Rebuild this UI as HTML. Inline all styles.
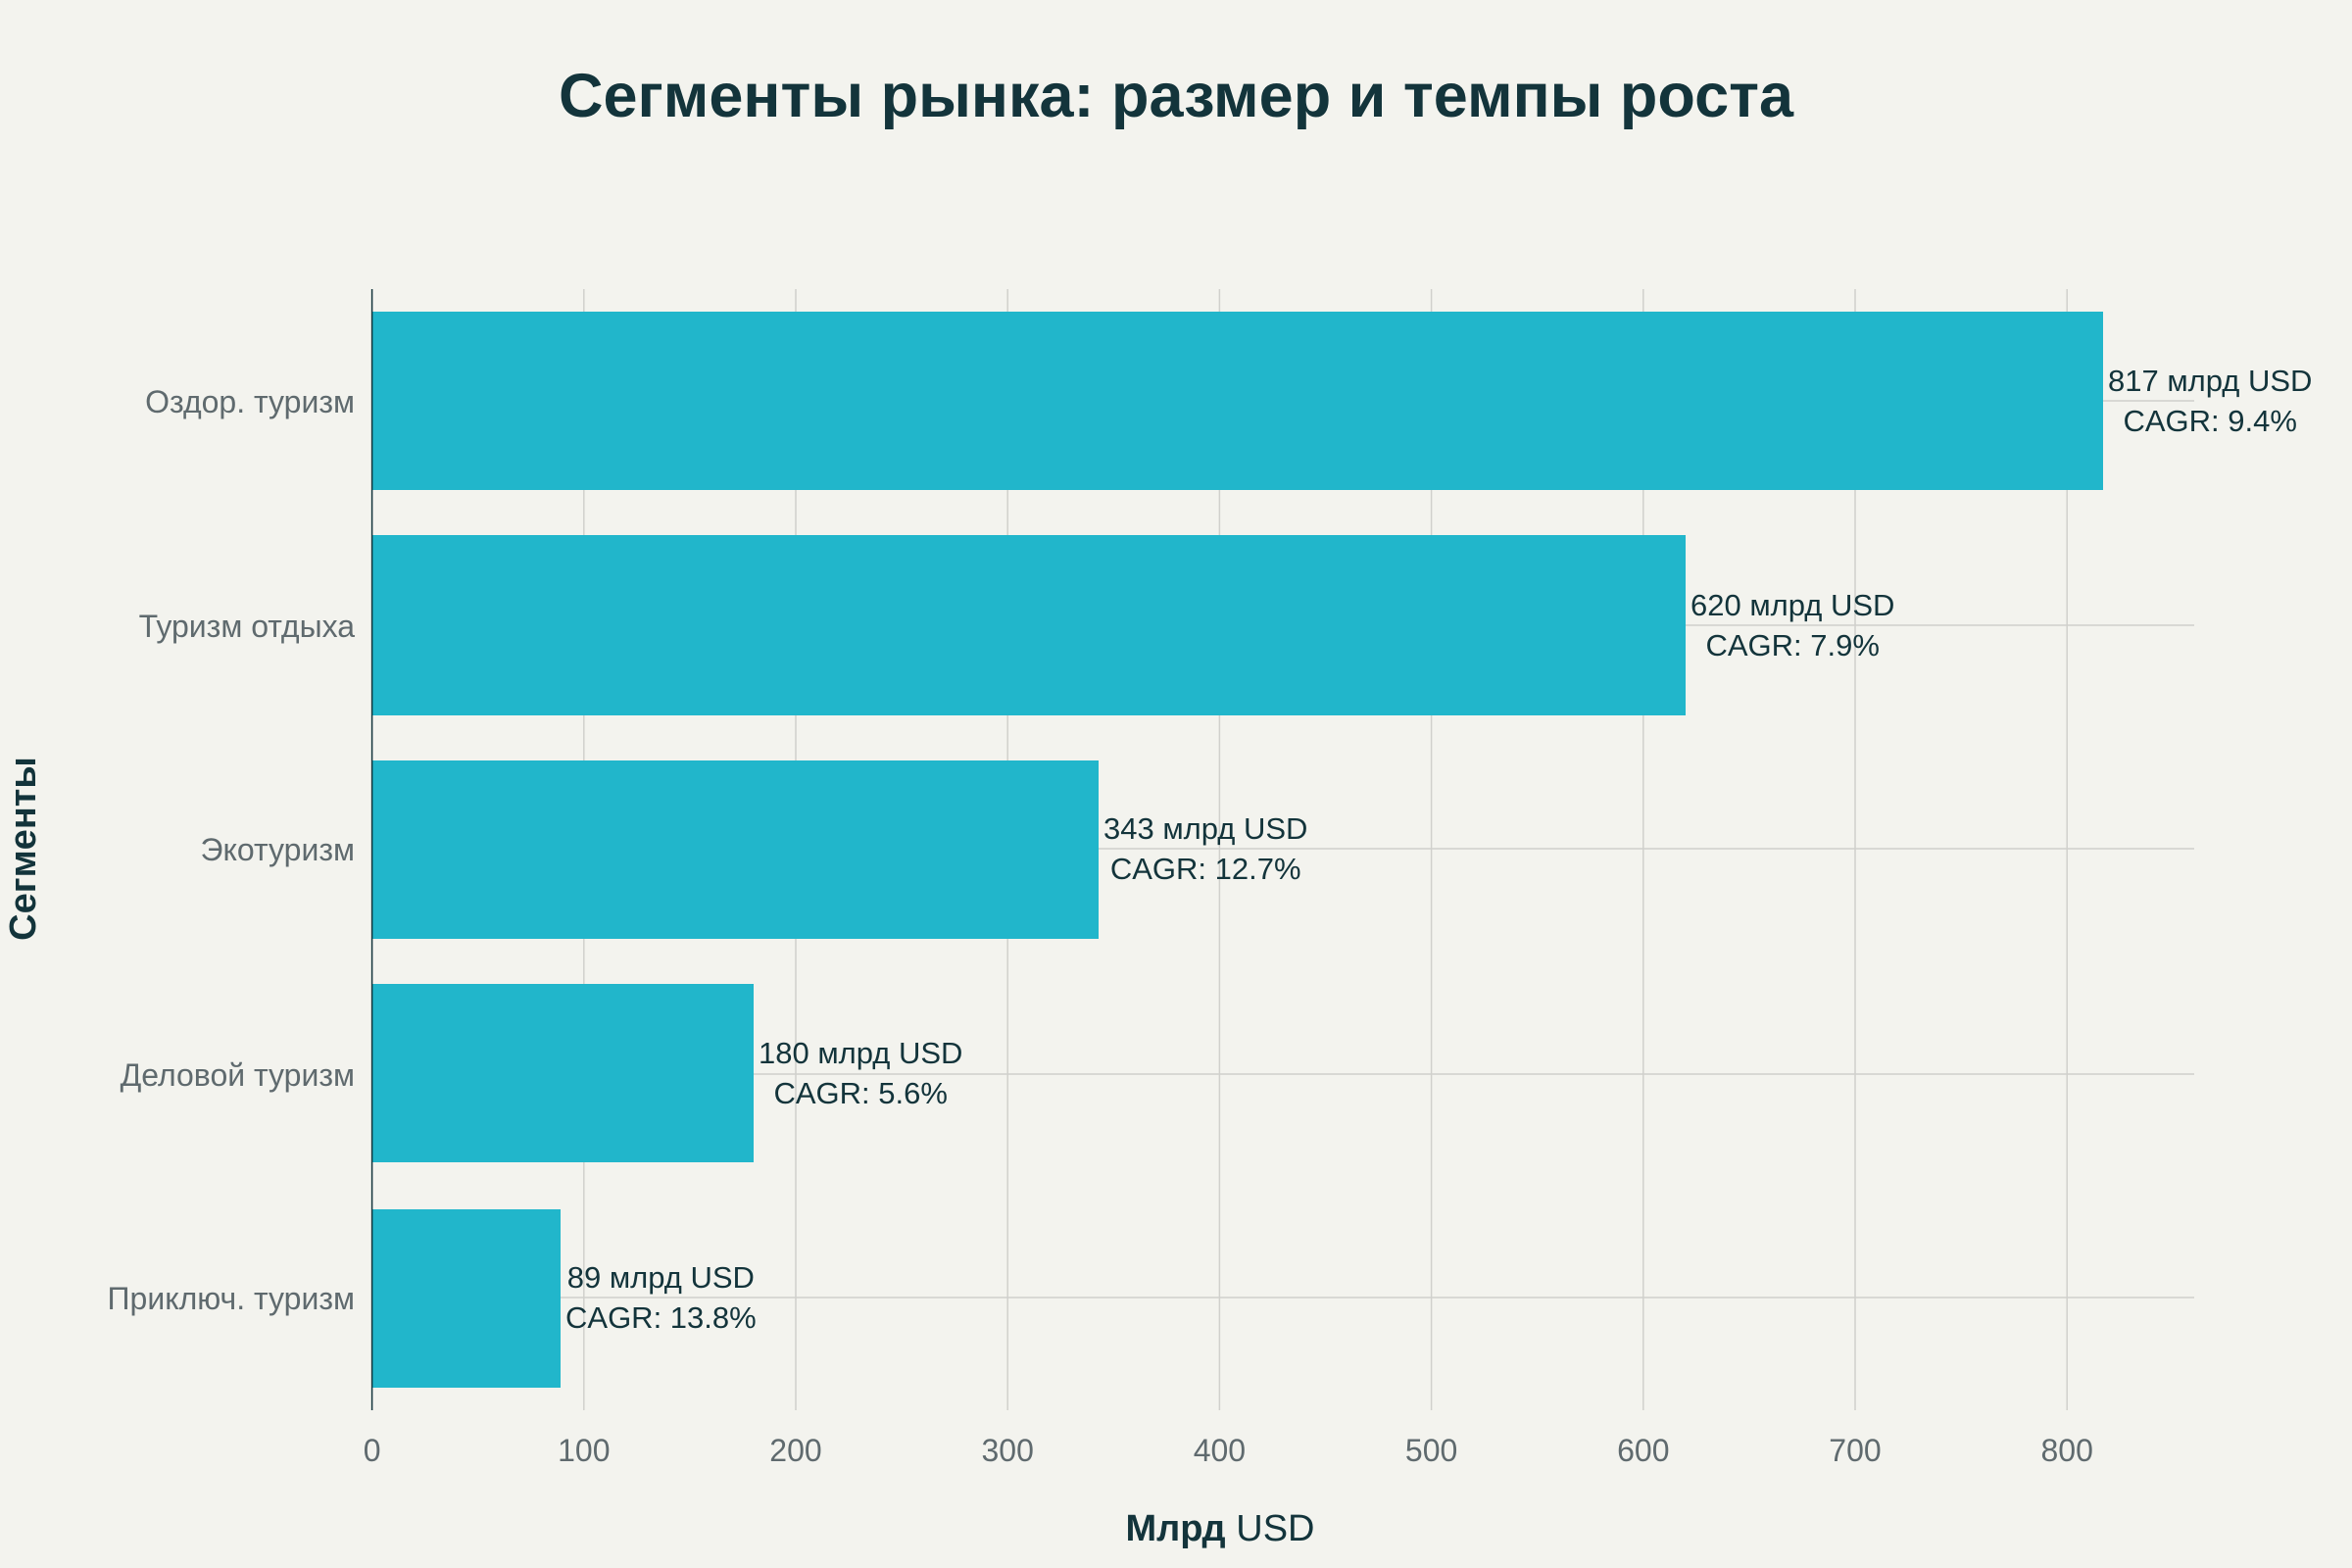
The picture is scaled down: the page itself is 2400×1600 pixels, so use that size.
<!DOCTYPE html>
<html><head><meta charset="utf-8"><style>
body{margin:0;background:#f3f3ee;}
.w{position:relative;width:2400px;height:1600px;background:#f3f3ee;font-family:"Liberation Sans","DejaVu Sans",sans-serif;overflow:hidden}
.a{position:absolute;text-align:center;font-size:31px;line-height:41px;color:#13343b;white-space:nowrap}
</style></head><body><div class="w">
<svg width="2400" height="1600" style="position:absolute;left:0;top:0" font-family="Liberation Sans, DejaVu Sans, sans-serif">
<text x="1200" y="119" text-anchor="middle" font-size="63" font-weight="bold" fill="#13343b">Сегменты рынка: размер и темпы роста</text>
<g stroke="#d0d0cc" stroke-width="1.5">
<line x1="595.8" y1="295" x2="595.8" y2="1439"/><line x1="812" y1="295" x2="812" y2="1439"/><line x1="1028.2" y1="295" x2="1028.2" y2="1439"/><line x1="1244.4" y1="295" x2="1244.4" y2="1439"/><line x1="1460.6" y1="295" x2="1460.6" y2="1439"/><line x1="1676.8" y1="295" x2="1676.8" y2="1439"/><line x1="1893" y1="295" x2="1893" y2="1439"/><line x1="2109.2" y1="295" x2="2109.2" y2="1439"/>
<line x1="380" y1="409" x2="2239" y2="409"/><line x1="380" y1="638" x2="2239" y2="638"/><line x1="380" y1="866" x2="2239" y2="866"/><line x1="380" y1="1096" x2="2239" y2="1096"/><line x1="380" y1="1324" x2="2239" y2="1324"/>
</g>
<g fill="#21b6cb">
<rect x="380" y="318" width="1766" height="182"/>
<rect x="380" y="546" width="1340" height="184"/>
<rect x="380" y="776" width="741" height="182"/>
<rect x="380" y="1004" width="389" height="182"/>
<rect x="380" y="1234" width="192" height="182"/>
</g>
<line x1="379.6" y1="295" x2="379.6" y2="1439" stroke="#13343b" stroke-width="1.5"/>
<g font-size="32" fill="#5f6a6e" text-anchor="end">
<text x="362" y="421">Оздор. туризм</text>
<text x="362" y="650">Туризм отдыха</text>
<text x="362" y="878">Экотуризм</text>
<text x="362" y="1108">Деловой туризм</text>
<text x="362" y="1336">Приключ. туризм</text>
</g>
<g font-size="32" fill="#5f6a6e" text-anchor="middle">
<text x="379.6" y="1491">0</text><text x="595.8" y="1491">100</text><text x="812" y="1491">200</text><text x="1028.2" y="1491">300</text><text x="1244.4" y="1491">400</text><text x="1460.6" y="1491">500</text><text x="1676.8" y="1491">600</text><text x="1893" y="1491">700</text><text x="2109.2" y="1491">800</text>
</g>
<text x="1245" y="1572" text-anchor="middle" font-size="38" fill="#13343b"><tspan font-weight="bold">Млрд</tspan> USD</text>
<text transform="translate(36,866) rotate(-90)" text-anchor="middle" font-size="38" font-weight="bold" fill="#13343b">Сегменты</text>
</svg>
<div class="a" style="left:2151px;top:368px">817 млрд USD<br>CAGR: 9.4%</div>
<div class="a" style="left:1725px;top:597px">620 млрд USD<br>CAGR: 7.9%</div>
<div class="a" style="left:1126px;top:825px">343 млрд USD<br>CAGR: 12.7%</div>
<div class="a" style="left:774px;top:1054px">180 млрд USD<br>CAGR: 5.6%</div>
<div class="a" style="left:577px;top:1283px">89 млрд USD<br>CAGR: 13.8%</div>
</div></body></html>
